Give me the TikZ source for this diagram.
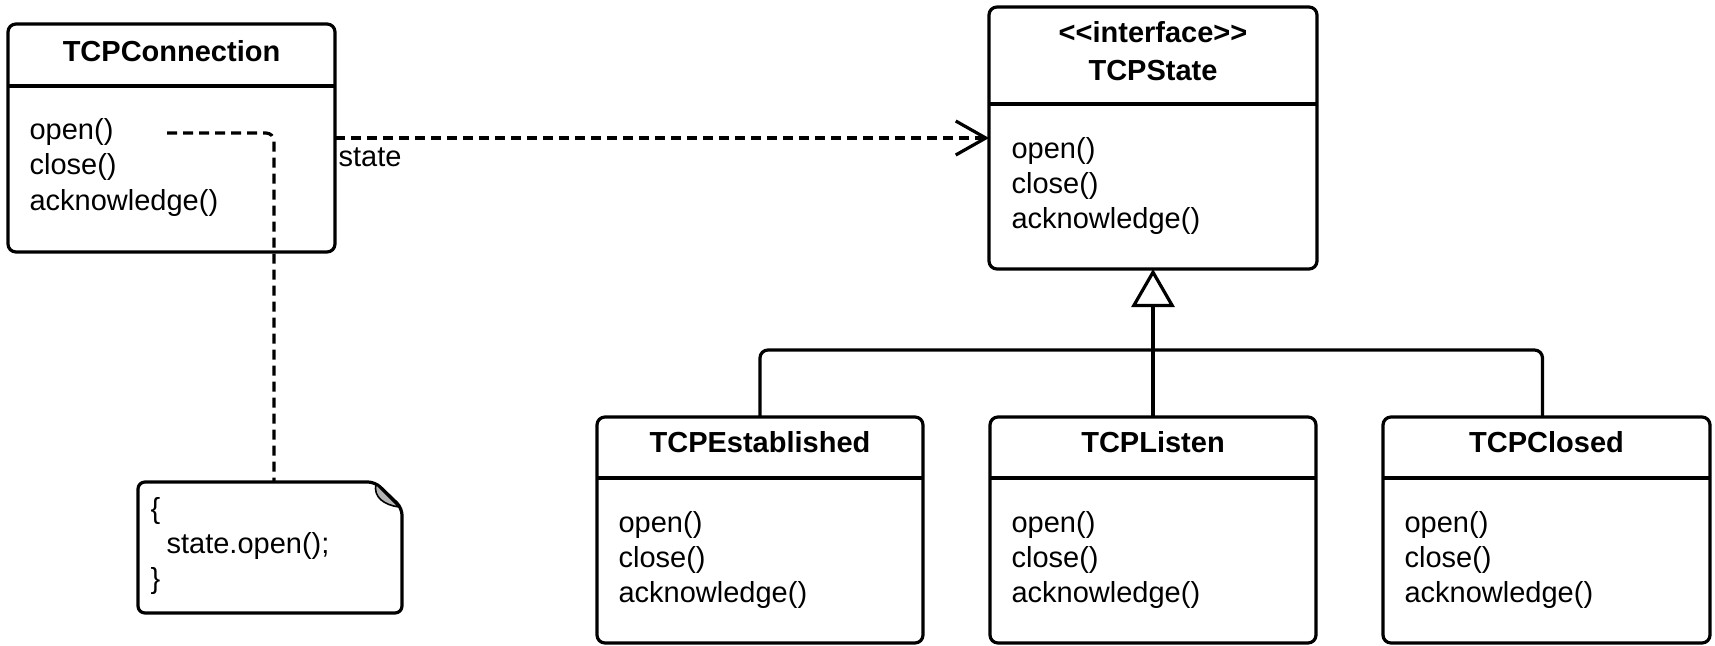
\documentclass[tikz,border=0pt]{standalone}
\usepackage{fontspec}
\setmainfont{Liberation Sans}
\usetikzlibrary{arrows.meta}
\definecolor{foldgray}{HTML}{B4B4B4}
\begin{document}
\begin{tikzpicture}[x=1pt,y=-1pt,line width=3.2pt,
  classbox/.style={draw,rounded corners=8pt,inner sep=0pt,outer sep=0pt},
  member/.style={inner sep=0pt,anchor=base west,font=\fontsize{29pt}{35pt}\selectfont},
  cname/.style={inner sep=0pt,anchor=base,font=\bfseries\fontsize{29pt}{35pt}\selectfont},
  dashline/.style={dash pattern=on 10pt off 6pt},
  link/.style={rounded corners=8pt}]
\useasboundingbox (0,0) rectangle (1715,645);

% --- TCPConnection ---
\node[classbox,minimum width=327pt,minimum height=228pt] (conn) at (171.5,138) {};
\draw (8,86) -- (335,86);
\node[cname] (connT) at (171.5,61) {TCPConnection};
\node[member] (connA) at (28,139) {open()};
\node[member] (connB) at (28,174.5) {close()};
\node[member] (connC) at (28,210) {acknowledge()};

% --- TCPState interface ---
\node[classbox,minimum width=328pt,minimum height=262pt] (state) at (1153,138) {};
\draw (989,104) -- (1317,104);
\node[cname] (stateS) at (1153,42) {<{}<interface>{}>};
\node[cname] (stateT) at (1153,80) {TCPState};
\node[member] (stateA) at (1010,158) {open()};
\node[member] (stateB) at (1010,193) {close()};
\node[member] (stateC) at (1010,228) {acknowledge()};

% --- concrete states ---
\node[classbox,minimum width=326pt,minimum height=226pt] (est) at (760,530) {};
\draw (597,478) -- (923,478);
\node[cname] (estT) at (760,452) {TCPEstablished};
\node[member] (estA) at (617,532) {open()};
\node[member] (estB) at (617,567) {close()};
\node[member] (estC) at (617,602) {acknowledge()};

\node[classbox,minimum width=326pt,minimum height=226pt] (listen) at (1153,530) {};
\draw (990,478) -- (1316,478);
\node[cname] (listenT) at (1153,452) {TCPListen};
\node[member] (listenA) at (1010,532) {open()};
\node[member] (listenB) at (1010,567) {close()};
\node[member] (listenC) at (1010,602) {acknowledge()};

\node[classbox,minimum width=327pt,minimum height=226pt] (closed) at (1546.5,530) {};
\draw (1383,478) -- (1710,478);
\node[cname] (closedT) at (1546.5,452) {TCPClosed};
\node[member] (closedA) at (1403,532) {open()};
\node[member] (closedB) at (1403,567) {close()};
\node[member] (closedC) at (1403,602) {acknowledge()};

% --- note with folded corner ---
\node[inner sep=0pt,outer sep=0pt,minimum width=264pt,minimum height=131pt] (note) at (270,547.5) {};
\draw[rounded corners=7pt] (note.north west) -- ([xshift=-27pt]note.north east)
  -- ([yshift=-26pt]note.north east) -- (note.south east) -- (note.south west) -- cycle;
\filldraw[fill=foldgray,line width=1.6pt] (376,484) .. controls (373,497) and (384,505) .. (399,507) -- cycle;
\node[member] (noteA) at (149,518) {\{};
\node[member] (noteB) at (165,553) {state.open();};
\node[member] (noteC) at (149,588) {\}};

% --- connectors ---
\coordinate (openref) at (167,133);
\draw[dashline,link] (openref) -| ([xshift=4pt]note.north);

\draw[dashline,-{Straight Barb[length=30pt,width=34pt]}] (conn.east) -- (state.west);
\node[member] (stateLbl) at (337,166) {state};

\coordinate (hub) at (1153,350);
\draw[link] (est.north) |- (hub) -| ([xshift=-4pt]closed.north);
\draw[-{Triangle[open,length=38pt,width=43pt]}] (listen.north) -- (state.south);
\end{tikzpicture}
\end{document}
